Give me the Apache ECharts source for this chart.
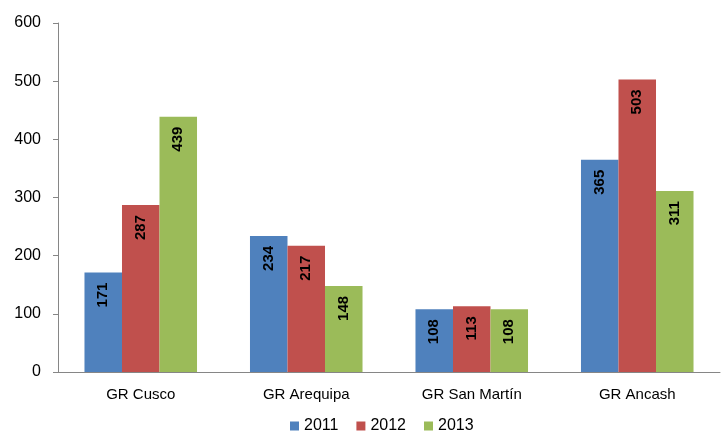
<!DOCTYPE html>
<html>
<head>
<meta charset="utf-8">
<script src="https://cdn.jsdelivr.net/npm/echarts@6/dist/echarts.min.js"></script>
<style>
  html, body { margin: 0; padding: 0; background: #fff; }
  #chart { width: 723px; height: 439px; }
</style>
</head>
<body>
<div id="chart"></div>
<script>
const categories = ['GR Cusco', 'GR Arequipa', 'GR San Martín', 'GR Ancash'];
const years = ['2011', '2012', '2013'];
const values2011 = [171, 234, 108, 365];
const values2012 = [287, 217, 113, 503];
const values2013 = [439, 148, 108, 311];
const colors = ['#4F81BD', '#C0504D', '#9BBB59'];

const fontFamily = '"Liberation Sans", Arial, sans-serif';

const chart = echarts.init(document.getElementById('chart'));

function makeSeries(name, data, color) {
  return {
    name: name,
    type: 'bar',
    data: data,
    barGap: '0%',
    barCategoryGap: '32%',
    itemStyle: { color: color },
    label: {
      show: true,
      position: 'insideTop',
      rotate: 90,
      align: 'right',
      verticalAlign: 'middle',
      distance: 10,
      color: '#000',
      fontWeight: 'bold',
      fontSize: 15,
      fontFamily: fontFamily
    }
  };
}

chart.setOption({
  animation: false,
  textStyle: { fontFamily: fontFamily },
  grid: {
    left: 58,
    right: 3,
    top: 23,
    bottom: 67
  },
  legend: {
    bottom: 0,
    left: 285,
    itemWidth: 9,
    itemHeight: 9,
    itemGap: 18,
    icon: 'rect',
    textStyle: { fontSize: 16, color: '#000', fontFamily: fontFamily },
    data: years
  },
  xAxis: {
    type: 'category',
    data: categories,
    axisLine: { lineStyle: { color: '#868686' } },
    axisTick: { show: false },
    axisLabel: { fontSize: 15, color: '#000', margin: 15 }
  },
  yAxis: {
    type: 'value',
    min: 0,
    max: 600,
    interval: 100,
    axisLine: { show: true, lineStyle: { color: '#868686' } },
    axisTick: { show: true, length: 5, lineStyle: { color: '#868686' } },
    splitLine: { show: false },
    axisLabel: { fontSize: 16, color: '#000', margin: 17 }
  },
  series: [
    makeSeries(years[0], values2011, colors[0]),
    makeSeries(years[1], values2012, colors[1]),
    makeSeries(years[2], values2013, colors[2])
  ]
});
</script>
</body>
</html>
